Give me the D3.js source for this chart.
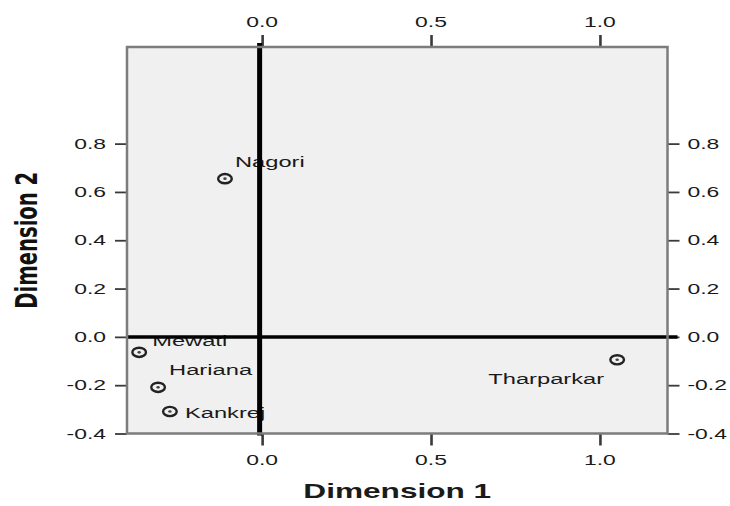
<!DOCTYPE html>
<html><head><meta charset="utf-8">
<script src="https://cdn.jsdelivr.net/npm/d3@7"></script>
<style>html,body{margin:0;padding:0;background:#fff;}svg{display:block;}</style>
</head><body>
<script>
const categories = ["Nagori", "Mewati", "Hariana", "Kankrej", "Tharparkar"];
const dim1 = [-0.11, -0.364, -0.308, -0.273, 1.051];
const dim2 = [0.655, -0.064, -0.209, -0.309, -0.095];
const xTicks = [0.0, 0.5, 1.0];
const yTicks = [-0.4, -0.2, 0.0, 0.2, 0.4, 0.6, 0.8];
const xTitle = "Dimension 1";
const yTitle = "Dimension 2";

// label placement (offsets in px from the marker, anchor)
const labelPlace = {
  Nagori: [10, -12, "start"],
  Mewati: [13, -6, "start"],
  Hariana: [11, -12, "start"],
  Kankrej: [15, 6, "start"],
  Tharparkar: [-13, 24, "end"]
};

const W = 730, H = 506, SX = 1.58;
const FONT = "'Liberation Sans', Arial, sans-serif";
const svg = d3.select("body").append("svg").attr("width", W).attr("height", H);

const x = d3.scaleLinear().domain([-0.4, 1.2]).range([127, 667.5]);
const y = d3.scaleLinear().domain([-0.4, 1.2]).range([433.5, 47]);
const f1 = d3.format(".1f");
const fmt = v => f1(v).replace("\u2212", "-");

// plot background
svg.append("rect").attr("x", x(-0.4)).attr("y", y(1.2))
  .attr("width", x(1.2) - x(-0.4)).attr("height", y(-0.4) - y(1.2))
  .attr("fill", "#f0f0f0");

function styleAxis(g){
  g.select(".domain").remove();
  g.selectAll(".tick line").attr("stroke", "#3a3a3a");
}
svg.append("g").attr("transform", `translate(${x(-0.4)},0)`)
  .call(d3.axisLeft(y).tickValues(yTicks).tickSize(12).tickFormat(""))
  .call(styleAxis).selectAll(".tick line").attr("stroke-width", 1.8);
svg.append("g").attr("transform", `translate(${x(1.2)},0)`)
  .call(d3.axisRight(y).tickValues(yTicks).tickSize(12).tickFormat(""))
  .call(styleAxis).selectAll(".tick line").attr("stroke-width", 1.8);
svg.append("g").attr("transform", `translate(0,${y(1.2)})`)
  .call(d3.axisTop(x).tickValues(xTicks).tickSize(12).tickFormat(""))
  .call(styleAxis).selectAll(".tick line").attr("stroke-width", 2.6);
svg.append("g").attr("transform", `translate(0,${y(-0.4)})`)
  .call(d3.axisBottom(x).tickValues(xTicks).tickSize(12).tickFormat(""))
  .call(styleAxis).selectAll(".tick line").attr("stroke-width", 2.6);

function sText(g, tx, ty, str, anchor, size, weight){
  return g.append("text")
    .attr("transform", `translate(${tx},${ty}) scale(${SX},1)`)
    .attr("text-anchor", anchor)
    .attr("font-family", FONT).attr("font-size", size)
    .attr("font-weight", weight || "normal")
    .attr("fill", "#1a1a1a").text(str);
}

const tl = svg.append("g");
yTicks.forEach(v => {
  sText(tl, x(-0.4) - 21, y(v) + 5, fmt(v), "end", 14.5);
  sText(tl, x(1.2) + 20, y(v) + 5, fmt(v), "start", 14.5);
});
xTicks.forEach(v => {
  sText(tl, x(v), y(1.2) - 20, fmt(v), "middle", 14.5);
  sText(tl, x(v), y(-0.4) + 31, fmt(v), "middle", 14.5);
});

// points and labels
const pts = svg.append("g");
categories.forEach((c, i) => {
  const px = x(dim1[i]), py = y(dim2[i]);
  pts.append("ellipse").attr("cx", px).attr("cy", py).attr("rx", 6.8).attr("ry", 4.6)
    .attr("fill", "none").attr("stroke", "#222").attr("stroke-width", 2.4);
  pts.append("ellipse").attr("cx", px).attr("cy", py).attr("rx", 1.7).attr("ry", 1.3)
    .attr("fill", "#444");
  const lp = labelPlace[c];
  sText(pts, px + lp[0], py + lp[1], c, lp[2], 15);
});

// reference lines at 0
svg.append("line").attr("x1", x(-0.4)).attr("x2", x(1.2) + 10)
  .attr("y1", y(0)).attr("y2", y(0)).attr("stroke", "#000").attr("stroke-width", 3.5);
svg.append("line").attr("x1", x(0) - 2.5).attr("x2", x(0) - 2.5)
  .attr("y1", y(1.2) - 4).attr("y2", y(-0.4) + 2).attr("stroke", "#000").attr("stroke-width", 5);

// frame
svg.append("rect").attr("x", x(-0.4)).attr("y", y(1.2))
  .attr("width", x(1.2) - x(-0.4)).attr("height", y(-0.4) - y(1.2))
  .attr("fill", "none").attr("stroke", "#7c7c7c").attr("stroke-width", 2.5);

// axis titles
sText(svg, (x(-0.4) + x(1.2)) / 2, 498, xTitle, "middle", 20, "bold");
svg.append("text")
  .attr("transform", `translate(37,${(y(1.2) + y(-0.4)) / 2}) scale(${SX},1) rotate(-90)`)
  .attr("text-anchor", "middle")
  .attr("font-family", "'DejaVu Sans Condensed', 'DejaVu Sans', sans-serif")
  .attr("font-stretch", "condensed")
  .attr("font-size", 19).attr("font-weight", "bold").attr("fill", "#111")
  .attr("textLength", 137).attr("lengthAdjust", "spacingAndGlyphs")
  .text(yTitle);
</script>
</body></html>
